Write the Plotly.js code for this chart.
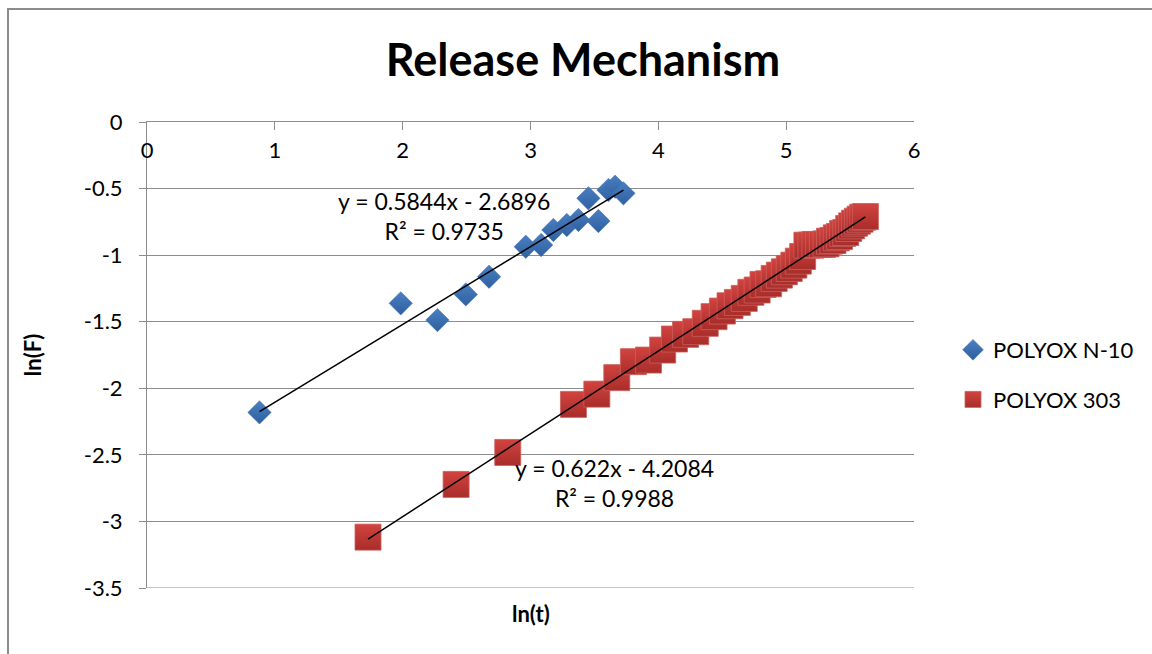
<!DOCTYPE html>
<html>
<head>
<meta charset="utf-8">
<script src="https://cdn.plot.ly/plotly-3.0.1.min.js"></script>
<style>
  html, body { margin: 0; padding: 0; background: #ffffff; }
  #chart { width: 1152px; height: 654px; }
</style>
</head>
<body>
<div id="chart"></div>
<script>
// ---- Data ----
const seriesNames = ["POLYOX N-10", "POLYOX 303"];

const n10_lnT = [0.88, 1.985, 2.272, 2.494, 2.676, 2.963, 3.083, 3.179, 3.284, 3.375, 3.453, 3.531, 3.610, 3.662, 3.727];
const n10_lnF = [-2.181, -1.362, -1.488, -1.295, -1.162, -0.937, -0.924, -0.811, -0.774, -0.736, -0.573, -0.744, -0.511, -0.486, -0.536];

const p303_lnT = [1.729, 2.418, 2.822, 3.336, 3.519, 3.675, 3.805, 3.923, 4.034,
  4.126, 4.213, 4.293, 4.367, 4.436, 4.501, 4.561, 4.618, 4.672, 4.724,
  4.773, 4.819, 4.863, 4.906, 4.947, 4.986, 5.024, 5.060, 5.095, 5.129,
  5.162, 5.194, 5.225, 5.254, 5.283, 5.312, 5.339, 5.366, 5.392, 5.417,
  5.442, 5.466, 5.489, 5.512, 5.535, 5.557, 5.578, 5.599, 5.620];
const p303_lnF = [-3.118, -2.722, -2.482, -2.121, -2.044, -1.920, -1.800, -1.788, -1.713,
  -1.630, -1.595, -1.575, -1.512, -1.462, -1.420, -1.380, -1.355, -1.325, -1.279,
  -1.262, -1.220, -1.215, -1.175, -1.150, -1.125, -1.100, -1.075, -1.045, -1.010,
  -0.925, -0.925, -0.920, -0.920, -0.920, -0.915, -0.895, -0.890, -0.870, -0.860,
  -0.837, -0.830, -0.800, -0.780, -0.760, -0.745, -0.730, -0.715, -0.710];

// Linear trendlines shown on the chart
const trendSlopes = [0.5844, 0.622];
const trendIntercepts = [-2.6896, -4.2084];
const trendR2 = ["0.9735", "0.9988"];
const eqLabelPos = [[2.324, -0.706], [3.654, -2.712]];

const xTickVals = [0, 1, 2, 3, 4, 5, 6];
const xTickText = ["0", "1", "2", "3", "4", "5", "6"];
const yTickVals = [0, -0.5, -1, -1.5, -2, -2.5, -3, -3.5];
const yTickText = ["0", "-0.5", "-1", "-1.5", "-2", "-2.5", "-3", "-3.5"];

// ---- Build traces ----
const FONT = "Lato, 'Open Sans', sans-serif";
const gridCol = "#8c8c8c";

function trendTrace(xs, k) {
  const x0 = Math.min(...xs), x1 = Math.max(...xs);
  return {
    x: [x0, x1],
    y: [trendSlopes[k] * x0 + trendIntercepts[k], trendSlopes[k] * x1 + trendIntercepts[k]],
    mode: "lines", type: "scatter", showlegend: false, hoverinfo: "skip",
    line: { color: "#000000", width: 1.5 }
  };
}

const traces = [
  {
    x: n10_lnT, y: n10_lnF, name: seriesNames[0], type: "scatter", mode: "markers",
    legendgroup: "a",
    marker: { symbol: "diamond", size: 18, color: "#4a7fc1",
      gradient: { type: "vertical", color: "#2f60a0" },
      line: { color: "#3d6fae", width: 0.5 } }
  },
  {
    x: p303_lnT, y: p303_lnF, name: seriesNames[1], type: "scatter", mode: "markers",
    legendgroup: "b",
    marker: { symbol: "square", size: 26, color: "#d2433f",
      gradient: { type: "vertical", color: "#a82d2a" },
      line: { color: "#c9605c", width: 0.8 } }
  },
  trendTrace(n10_lnT, 0),
  trendTrace(p303_lnT, 1)
];

function eqText(k) {
  const b = trendIntercepts[k];
  const sign = b < 0 ? " - " : " + ";
  return "y = " + trendSlopes[k] + "x" + sign + Math.abs(b) + "<br>R\u00B2 = " + trendR2[k];
}

const annotations = [0, 1].map(k => ({
  x: eqLabelPos[k][0], y: eqLabelPos[k][1], xref: "x", yref: "y",
  text: eqText(k), showarrow: false, align: "center",
  font: { family: FONT, size: 23, color: "#000000" }
}));
annotations.push({
  x: 0.5, y: -0.054, xref: "paper", yref: "paper", yanchor: "middle",
  text: "<b>ln(t)</b>", showarrow: false,
  font: { family: FONT, size: 22, color: "#000000" }
});

const layout = {
  width: 1152, height: 654,
  paper_bgcolor: "#ffffff", plot_bgcolor: "#ffffff",
  margin: { l: 147, r: 238, t: 122, b: 66 },
  font: { family: FONT, size: 22, color: "#000000" },
  title: {
    text: "<b>Release Mechanism</b>",
    x: 583 / 1152, xref: "container", xanchor: "center",
    y: 1 - 60 / 654, yref: "container", yanchor: "middle",
    font: { family: FONT, size: 45, color: "#000000" }
  },
  xaxis: {
    range: [0, 6], side: "top",
    tickvals: xTickVals, ticktext: xTickText,
    ticks: "inside", ticklen: 8, tickcolor: gridCol, tickwidth: 1,
    ticklabelposition: "inside", ticklabeloverflow: "allow", ticklabelstandoff: 14,
    showline: true, linecolor: gridCol, linewidth: 1,
    showgrid: false, zeroline: false,
    tickfont: { family: FONT, size: 22, color: "#000000" }
  },
  yaxis: {
    range: [-3.5, 0],
    tickvals: yTickVals, ticktext: yTickText,
    ticks: "outside", ticklen: 7, tickcolor: gridCol, tickwidth: 1,
    ticklabelstandoff: 12,
    showline: true, linecolor: gridCol, linewidth: 1,
    showgrid: true, gridcolor: gridCol, gridwidth: 1, zeroline: false,
    tickfont: { family: FONT, size: 22, color: "#000000" },
    title: { text: "<b>ln(F)</b>", font: { family: FONT, size: 22, color: "#000000" }, standoff: 36 }
  },
  legend: {
    x: (953 - 147) / 767, xanchor: "left",
    y: (588 - 375) / 466, yanchor: "middle",
    font: { family: FONT, size: 22, color: "#000000" },
    tracegroupgap: 18, bgcolor: "rgba(0,0,0,0)"
  },
  annotations: annotations,
  shapes: [
    {
      type: "line", xref: "paper", yref: "y",
      x0: 0, x1: 1, y0: yTickVals[yTickVals.length - 1], y1: yTickVals[yTickVals.length - 1],
      line: { color: gridCol, width: 1 }, layer: "below"
    },
    {
      type: "rect", xref: "paper", yref: "paper",
      x0: (8 - 147) / 767, x1: (1220 - 147) / 767,
      y0: (588 - 700) / 466, y1: (588 - 9) / 466,
      line: { color: "#8c8c8c", width: 2 }, fillcolor: "rgba(0,0,0,0)", layer: "below"
    }
  ]
};

Plotly.newPlot("chart", traces, layout, { displayModeBar: false, staticPlot: true });
</script>
</body>
</html>
